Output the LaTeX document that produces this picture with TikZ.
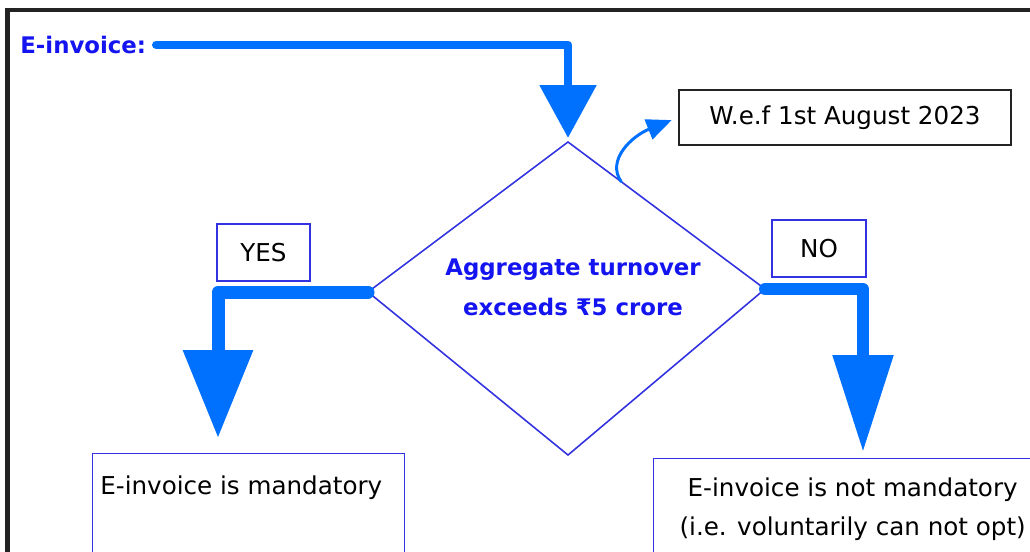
\documentclass[tikz,border=0pt]{standalone}
\usepackage{fontspec}
\setmainfont{DejaVu Sans}
\usetikzlibrary{arrows.meta,calc}
\definecolor{flowblue}{RGB}{0,112,255}
\definecolor{edgeblue}{RGB}{50,50,225}
\definecolor{textblue}{RGB}{20,20,240}
\definecolor{framegray}{RGB}{35,35,35}
\begin{document}
\begin{tikzpicture}[x=0.02cm, y=-0.02cm,
  plain/.style={font=\fontsize{14}{22.7}\selectfont, text=black},
  bluetext/.style={font=\fontsize{13}{22.7}\selectfont\bfseries, text=textblue},
  box/.style={draw=edgeblue, line width=0.8pt, inner sep=0pt, plain},
  flowline/.style={draw=flowblue, line cap=round, line join=round}]
\clip (0,0) rectangle (1030,551);
\fill[white] (0,0) rectangle (1030,551);
% frame of the screenshot
\draw[framegray, line width=2.8pt] (7.5,580) -- (7.5,10) -- (1060,10);

\node[bluetext, anchor=west, inner sep=0pt] (einv) at (20,45) {E-invoice:};

% decision
\coordinate (dtop) at (568,142);
\coordinate (dleft) at (368,292);
\coordinate (dright) at (765,289);
\coordinate (dbot) at (568,455);
\draw[edgeblue, line width=0.9pt] (dtop) -- (dright) -- (dbot) -- (dleft) -- cycle;
\node[bluetext, align=center] (cond) at (573,287) {Aggregate turnover\\exceeds ₹5 crore};

\node[draw=framegray, line width=1pt, minimum width=6.64cm, minimum height=1.1cm, plain] (wef) at (845,117.5) {W.e.f 1st August 2023};
\node[box, minimum width=1.86cm, minimum height=1.14cm] (yes) at (263.5,252.5) {YES};
\node[box, minimum width=1.88cm, minimum height=1.14cm] (no) at (819,248.5) {NO};

\node[box, anchor=north west, minimum width=6.24cm, minimum height=2.5cm,
  label={[anchor=north west, inner sep=0pt, xshift=0.16cm, yshift=-0.44cm, plain]north west:E-invoice is mandatory}] (mand) at (92,453) {};
\node[box, anchor=north west, minimum width=7.96cm, minimum height=2.5cm,
  label={[anchor=north, align=center, inner sep=0pt, yshift=-0.38cm, plain]north:E-invoice is not mandatory\\(i.e. voluntarily can not opt)}] (notmand) at (653,458) {};

\coordinate (yesend) at (218,438);
\coordinate (noend) at (863,452);
\coordinate (dside) at ($(dtop)!0.27!(dright)$);

% arrows
\draw[flowline, line width=5.1pt, shorten >=0.08cm, -{Triangle[length=1.06cm, width=1.1cm]}] ([xshift=0.2cm]einv.east) -| (dtop);
\draw[flowline, line width=7.4pt, -{Triangle[length=1.76cm, width=1.34cm]}] (dleft) -| (yesend);
\draw[flowline, line width=6.8pt, -{Triangle[length=1.94cm, width=1.16cm]}] (dright) -| (noend);
\draw[flowline, line width=1.7pt, shorten >=0.14cm, -{Triangle[length=0.5cm, width=0.42cm]}] (dside) .. controls (606,160) and (632,136) .. (wef.west);
\end{tikzpicture}
\end{document}
